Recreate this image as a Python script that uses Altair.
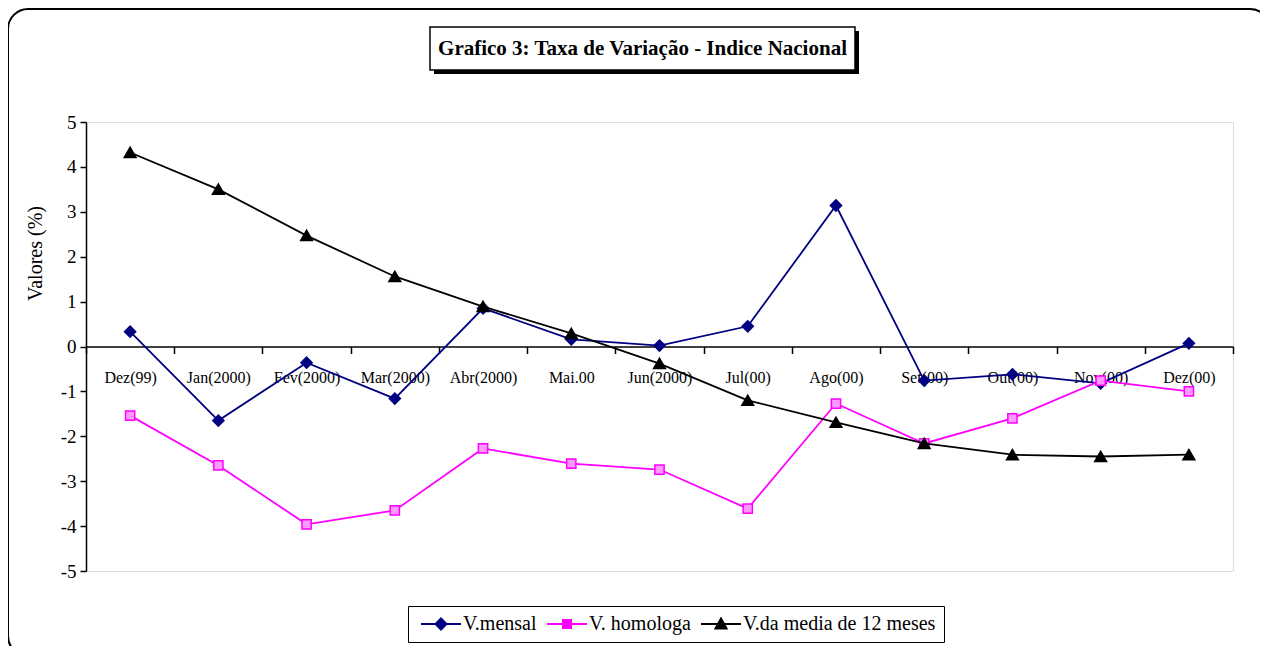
import altair as alt
import pandas as pd

categories = ["Dez(99)", "Jan(2000)", "Fev(2000)", "Mar(2000)", "Abr(2000)", "Mai.00",
              "Jun(2000)", "Jul(00)", "Ago(00)", "Set(00)", "Out(00)", "Nov(00)", "Dez(00)"]
series_names = ["V.mensal", "V. homologa", "V.da media de 12 meses"]
v_mensal = [0.33, -1.65, -0.36, -1.16, 0.85, 0.16, 0.02, 0.45, 3.14, -0.76, -0.62, -0.82, 0.07]
v_homologa = [-1.54, -2.65, -3.96, -3.65, -2.27, -2.61, -2.74, -3.61, -1.27, -2.16, -1.60, -0.76, -1.00]
v_media12 = [4.32, 3.50, 2.47, 1.56, 0.89, 0.29, -0.38, -1.20, -1.69, -2.16, -2.41, -2.45, -2.41]
y_ticks = [-5, -4, -3, -2, -1, 0, 1, 2, 3, 4, 5]
colors = ["#000080", "#ff00ff", "#000000"]
title_text = "Grafico 3: Taxa de Variação - Indice Nacional"
y_title = "Valores (%)"

rows = []
for name, vals in zip(series_names, [v_mensal, v_homologa, v_media12]):
    for c, v in zip(categories, vals):
        rows.append({"mes": c, "valor": v, "serie": name})
df = pd.DataFrame(rows)

FONT = "Liberation Serif"
W, H = 1147, 449

# legend symbol paths: unit = 5px (symbolSize 100), line spans 40px
shape_expr = ("datum.value === 'V.mensal' ? 'M-4,0H4M0,-1.1L1.1,0L0,1.1L-1.1,0Z' : "
              "datum.value === 'V. homologa' ? 'M-4,0H-0.8M0.8,0H4M-0.8,-0.8H0.8V0.8H-0.8Z' : "
              "'M-4,0H4M0,-1.1L1.1,0.9L-1.1,0.9Z'")
fill_expr = ("datum.value === 'V.mensal' ? '#000080' : "
             "datum.value === 'V. homologa' ? '#ff99ff' : '#000000'")
stroke_expr = ("datum.value === 'V.mensal' ? '#000080' : "
               "datum.value === 'V. homologa' ? '#ff00ff' : '#000000'")

color_enc = alt.Color(
    "serie:N",
    scale=alt.Scale(domain=series_names, range=colors),
    legend=alt.Legend(
        title=None, orient="none", legendX=322, legendY=484, direction="horizontal",
        strokeColor="black", fillColor="white", padding=8, symbolSize=100,
        symbolStrokeWidth=2, labelFont=FONT, labelFontSize=20, labelColor="black",
        symbolOffset=15, labelOffset=12, columnPadding=5, symbolOpacity=1,
        labelLimit=400,
        symbolType=alt.ExprRef(expr=shape_expr),
        symbolFillColor=alt.ExprRef(expr=fill_expr),
        symbolStrokeColor=alt.ExprRef(expr=stroke_expr),
    ),
)

x_enc = alt.X(
    "mes:N", sort=categories, bandPosition=0.5,
    scale=alt.Scale(type="band", domain=categories, paddingInner=0, paddingOuter=0),
    axis=alt.Axis(title=None, orient="bottom", offset=-H / 2, tickBand="extent",
                  labelFont=FONT, labelFontSize=16, labelColor="black", labelAngle=0,
                  labelBaseline="middle", labelPadding=24, tickSize=7, tickColor="black",
                  tickWidth=1.5, domainColor="black", domainWidth=1.5, grid=False,
                  labelOverlap=False),
)
y_enc = alt.Y(
    "valor:Q", scale=alt.Scale(domain=[-5, 5], nice=False, zero=False),
    axis=alt.Axis(values=y_ticks, title=y_title, titleFont=FONT, titleFontSize=20,
                  titleFontWeight="normal", titleColor="black", titleX=-51, titleY=131,
                  titleAngle=270, titleBaseline="middle", titleAlign="center",
                  labelFont=FONT, labelFontSize=19, labelColor="black", labelPadding=4,
                  tickSize=6, tickColor="black", tickWidth=1.5, domainColor="black",
                  domainWidth=1.5, grid=False, labelExpr="'' + datum.value"),
)

dummy = alt.Data(values=[{"k": 1}])
frame = alt.Chart(dummy).mark_rect(
    cornerRadius=20, stroke="black", strokeWidth=2, fill="white", fillOpacity=0
).encode(x=alt.value(-78), x2=alt.value(1184), y=alt.value(-113), y2=alt.value(534))
shadow = alt.Chart(dummy).mark_rect(fill="black").encode(
    x=alt.value(348), x2=alt.value(773), y=alt.value(-91), y2=alt.value(-48))
tbox = alt.Chart(dummy).mark_rect(fill="white", stroke="black", strokeWidth=1.5).encode(
    x=alt.value(344), x2=alt.value(769), y=alt.value(-95), y2=alt.value(-52))
ttext = alt.Chart(dummy).mark_text(
    text=title_text, font=FONT, fontSize=21, fontWeight="bold", color="black",
    align="center", baseline="middle"
).encode(x=alt.value(556.5), y=alt.value(-73))

shapes = {
    "V.mensal": dict(shape="diamond", size=110, filled=True, fill="#000080", stroke="#000080"),
    "V. homologa": dict(shape="square", size=85, filled=True, fill="#ff99ff", stroke="#ff00ff", strokeWidth=1.5),
    "V.da media de 12 meses": dict(shape="triangle-up", size=120, filled=True, fill="#000000", stroke="#000000"),
}

layers = [frame, shadow, tbox, ttext]
for name in series_names:
    base = alt.Chart(df).transform_filter(alt.datum.serie == name)
    line = base.mark_line(strokeWidth=1.8).encode(x=x_enc, y=y_enc, color=color_enc)
    pts = base.mark_point(opacity=1, **shapes[name]).encode(x=x_enc, y=y_enc, color=color_enc)
    layers += [line, pts]

chart = alt.layer(*layers).properties(
    width=W, height=H,
    autosize=alt.AutoSizeParams(type="none"),
    padding={"left": 78, "top": 114, "right": 27, "bottom": 75},
).configure_view(stroke=None).configure(background="white")

chart.save("out.html", embed_options={"renderer": "svg", "actions": False})
